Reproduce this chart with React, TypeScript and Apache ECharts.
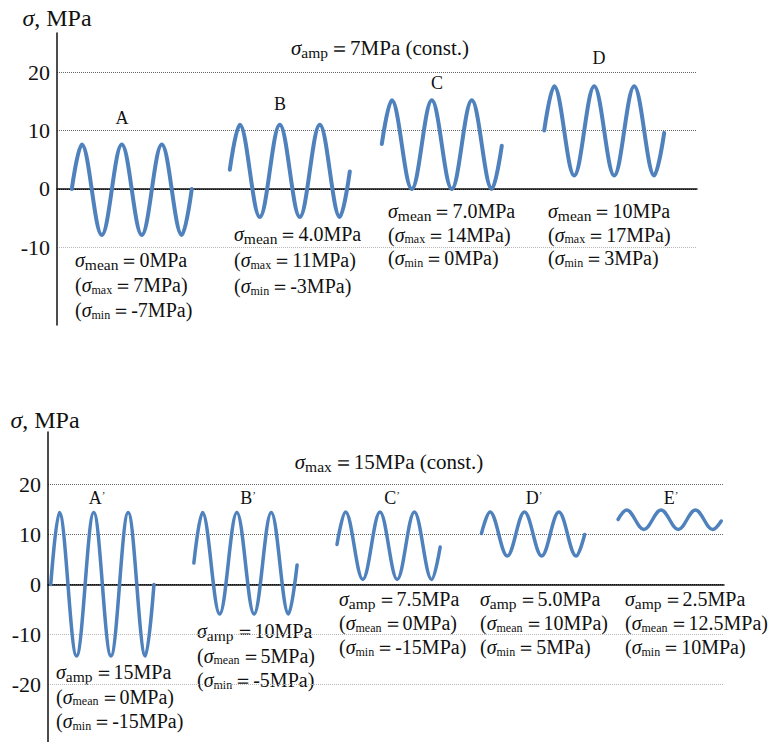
import React, { useEffect, useRef } from "react";
import * as echarts from "echarts";

// ---------- data ----------
const topTicks = [-10, 0, 10, 20];
const bottomTicks = [-20, -10, 0, 10, 20];

// time (in cycles) of each read point: start, six extremes, end
const phase = [0, 0.25, 0.75, 1.25, 1.75, 2.25, 2.75, 3.0];

// top panel: constant amplitude
const topWaveNames = ["A", "B", "C", "D"];
const topWaveStarts = [0.37, 4.32, 8.12, 12.18];
const waveA = [0, 7.6, -7.9, 7.6, -7.9, 7.6, -7.9, 0];
const waveB = [3.3, 11.0, -4.8, 11.0, -4.8, 11.0, -4.8, 3.0];
const waveC = [7.7, 15.2, 0.0, 15.2, 0.0, 15.2, 0.0, 7.4];
const waveD = [10.0, 17.6, 2.3, 17.6, 2.3, 17.6, 2.3, 9.6];

// bottom panel: constant maximum
const bottomWaveNames = ["A", "B", "C", "D", "E"];
const bottomWaveStarts = [0.08, 4.24, 8.4, 12.6, 16.57];
const waveA2 = [0, 14.4, -14.3, 14.4, -14.3, 14.4, -14.3, 0];
const waveB2 = [4.3, 14.4, -5.9, 14.4, -5.9, 14.4, -5.9, 3.9];
const waveC2 = [8.0, 14.5, 1.0, 14.5, 1.0, 14.5, 1.0, 7.5];
const waveD2 = [10.2, 14.5, 5.7, 14.5, 5.7, 14.5, 5.7, 10.0];
const waveE2 = [13.0, 14.9, 11.0, 14.9, 11.0, 14.9, 11.0, 12.7];

const axisTitle = ["σ", ", MPa"];
const topTitle = ["amp", "＝7MPa (const.)"];
const bottomTitle = ["max", "＝15MPa (const.)"];

const topNotes = [
  [["mean", "0MPa"], ["max", "7MPa"], ["min", "-7MPa"]],
  [["mean", "4.0MPa"], ["max", "11MPa"], ["min", "-3MPa"]],
  [["mean", "7.0MPa"], ["max", "14MPa"], ["min", "0MPa"]],
  [["mean", "10MPa"], ["max", "17MPa"], ["min", "3MPa"]],
];
const bottomNotes = [
  [["amp", "15MPa"], ["mean", "0MPa"], ["min", "-15MPa"]],
  [["amp", "10MPa"], ["mean", "5MPa"], ["min", "-5MPa"]],
  [["amp", "7.5MPa"], ["mean", "0MPa"], ["min", "-15MPa"]],
  [["amp", "5.0MPa"], ["mean", "10MPa"], ["min", "5MPa"]],
  [["amp", "2.5MPa"], ["mean", "12.5MPa"], ["min", "10MPa"]],
];

// ---------- layout / style ----------
const SERIF = "Liberation Serif";
const INK = "#111";
const WAVE = "#4F81BD";

const topLabelPos = [[122, 118], [280, 104], [437, 83], [599, 58]];
const bottomLabelPos = [[97, 498], [248, 498], [392, 498], [534, 498], [671, 498]];
const topNotePos = [[75, 260, 25], [234, 234, 26], [388, 211, 23.5], [548, 211, 23.5]];
const bottomNotePos = [[56, 672, 24.5], [197, 631, 24.5], [339, 599, 24], [480, 599, 24], [625, 599, 24]];

const rich = {
  s: { fontFamily: SERIF, fontStyle: "italic", fontSize: 20, color: INK },
  b: { fontFamily: SERIF, fontSize: 15.5, padding: [9, 1, 0, 0], color: INK },
  bs: { fontFamily: SERIF, fontSize: 12, padding: [9, 1, 0, 0], color: INK },
  t: { fontFamily: SERIF, fontSize: 20, color: INK },
  T: { fontFamily: SERIF, fontSize: 21, color: INK },
  TS: { fontFamily: SERIF, fontStyle: "italic", fontSize: 21, color: INK },
  L: { fontFamily: SERIF, fontSize: 18, color: INK },
  p: { fontFamily: SERIF, fontSize: 11, padding: [0, 0, 6, 0], color: INK },
  AI: { fontFamily: SERIF, fontStyle: "italic", fontSize: 24, color: INK },
  AN: { fontFamily: SERIF, fontSize: 24, color: INK },
};

const axisRich = {
  v: { fontFamily: SERIF, fontSize: 22, color: INK },
};

function noteTexts(notes: string[][][], pos: number[][]) {
  const out: any[] = [];
  notes.forEach((lines, k) => {
    const [x, y0, dy] = pos[k];
    lines.forEach((ln, j) => {
      const txt =
        j === 0
          ? `{s|σ}{b|${ln[0]}}{t|＝${ln[1]}}`
          : `{t|(}{s|σ}{bs|${ln[0]}}{t|＝${ln[1]})}`;
      out.push({
        type: "text",
        x,
        y: y0 + j * dy,
        silent: true,
        style: { text: txt, rich, align: "left", verticalAlign: "middle", fill: INK },
      });
    });
  });
  return out;
}

function waveLabels(names: string[], pos: number[][], prime: boolean) {
  return names.map((n, k) => ({
    type: "text",
    x: pos[k][0],
    y: pos[k][1],
    silent: true,
    style: {
      text: prime ? `{L|${n}}{p|’}` : `{L|${n}}`,
      rich,
      align: "center",
      verticalAlign: "middle",
      fill: INK,
    },
  }));
}

function waveSeries(waves: number[][], starts: number[], names: string[], axis: number, width: number) {
  return waves.map((w, k) => ({
    type: "line",
    name: names[k],
    xAxisIndex: axis,
    yAxisIndex: axis,
    data: w.map((v, i) => [starts[k] + phase[i], v]),
    smooth: 0.36,
    smoothMonotone: "x",
    symbol: "none",
    silent: true,
    clip: false,
    lineStyle: { color: WAVE, width, cap: "round" },
  }));
}

function yAxisOpt(gridIndex: number, min: number, max: number, ticks: number[], colors: string[]) {
  return {
    type: "value",
    gridIndex,
    min,
    max,
    axisLine: { show: true, lineStyle: { color: "#111", width: 1.5 } },
    axisTick: { show: false, customValues: ticks },
    axisLabel: {
      customValues: ticks,
      formatter: (v: number) => `{v|${v}}`,
      rich: axisRich,
      fontFamily: SERIF,
      fontSize: 22,
      color: INK,
      margin: 7,
    },
    splitLine: { show: true, lineStyle: { type: "dotted", color: colors, width: 1 } },
  };
}

function xAxisOpt(gridIndex: number, max: number) {
  return {
    type: "value",
    gridIndex,
    min: 0,
    max,
    axisLine: { show: true, onZero: true, lineStyle: { color: "#111", width: 1.5 } },
    axisTick: { show: false },
    axisLabel: { show: false },
    splitLine: { show: false },
  };
}

function title(x: number, y: number, parts: string[]) {
  return {
    type: "text",
    x,
    y,
    silent: true,
    style: {
      text: `{TS|σ}{b|${parts[0]}}{T|${parts[1]}}`,
      rich,
      align: "center",
      verticalAlign: "middle",
      fill: INK,
    },
  };
}

function axisName(x: number, y: number) {
  return {
    type: "text",
    x,
    y,
    silent: true,
    style: {
      text: `{AI|${axisTitle[0]}}{AN|${axisTitle[1]}}`,
      rich,
      align: "center",
      verticalAlign: "middle",
      fill: INK,
    },
  };
}

export default function App() {
  const ref = useRef<HTMLDivElement>(null);
  useEffect(() => {
    if (!ref.current) return;
    const chart = echarts.init(ref.current, undefined, { renderer: "svg" });
    const option: any = {
      animation: false,
      backgroundColor: "#fff",
      textStyle: { fontFamily: SERIF },
      grid: [
        { left: 57, top: 33, width: 640, height: 292, outerBoundsMode: "none", containLabel: false },
        { left: 48, top: 432, width: 676, height: 310, outerBoundsMode: "none", containLabel: false },
      ],
      xAxis: [xAxisOpt(0, 16), xAxisOpt(1, 19.65)],
      yAxis: [
        yAxisOpt(0, -23.3, 26.7, topTicks, ["#b8b8b8", "#000", "#666", "#666"]),
        yAxisOpt(1, -31.5, 30.5, bottomTicks, ["#b8b8b8", "#b8b8b8", "#000", "#666", "#666"]),
      ],
      series: [
        ...waveSeries([waveA, waveB, waveC, waveD], topWaveStarts, topWaveNames, 0, 4),
        ...waveSeries([waveA2, waveB2, waveC2, waveD2, waveE2], bottomWaveStarts, bottomWaveNames, 1, 3.5),
      ],
      graphic: [
        axisName(57, 18),
        axisName(45, 420),
        title(380, 48, topTitle),
        title(389, 462, bottomTitle),
        ...waveLabels(topWaveNames, topLabelPos, false),
        ...waveLabels(bottomWaveNames, bottomLabelPos, true),
        ...noteTexts(topNotes, topNotePos),
        ...noteTexts(bottomNotes, bottomNotePos),
      ],
    };
    chart.setOption(option);
    return () => chart.dispose();
  }, []);
  return (
    <div
      ref={ref}
      style={{ position: "absolute", left: 0, top: 0, width: 768, height: 742, background: "#fff" }}
    />
  );
}
